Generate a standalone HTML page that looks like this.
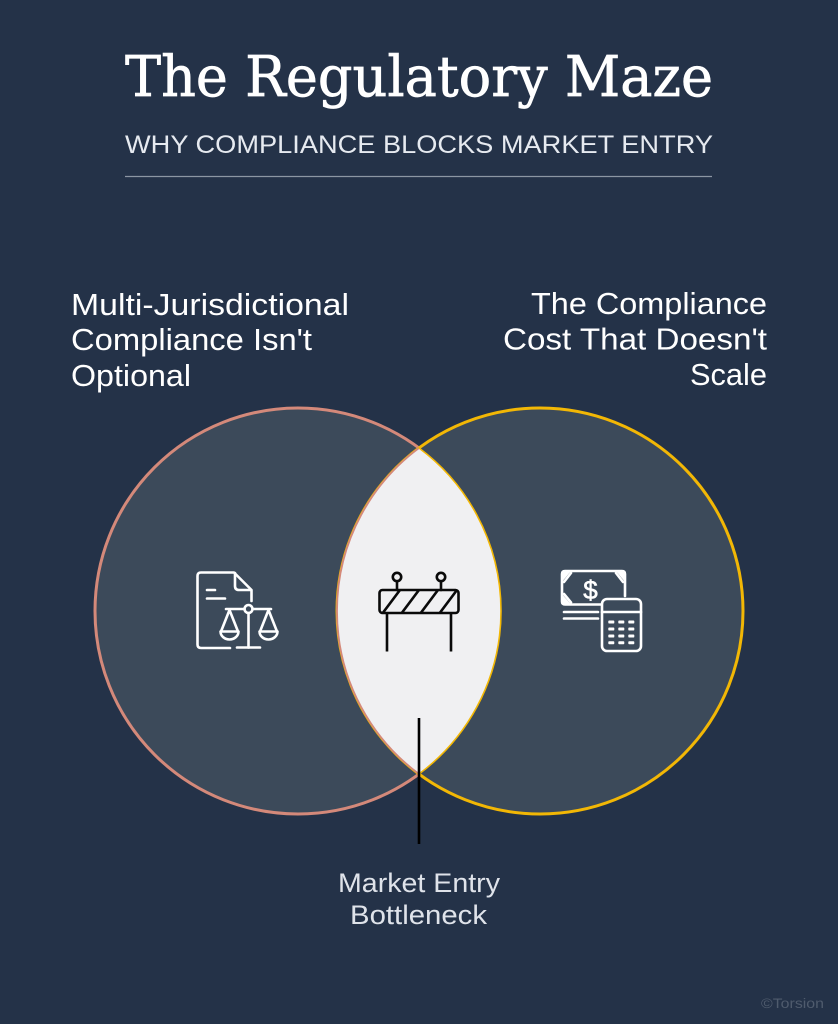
<!DOCTYPE html>
<html>
<head>
<meta charset="utf-8">
<style>
  html,body{margin:0;padding:0;background:#243248;}
  svg{display:block;}
</style>
</head>
<body>
<svg width="838" height="1024" viewBox="0 0 838 1024" xmlns="http://www.w3.org/2000/svg">
  <rect x="0" y="0" width="838" height="1024" fill="#243248"/>

  <!-- Title -->
  <text x="125" y="96" font-family="'DejaVu Serif','Liberation Serif',serif" font-size="56" fill="#ffffff" stroke="#ffffff" stroke-width="0.7" textLength="588" lengthAdjust="spacingAndGlyphs">The Regulatory Maze</text>
  <text x="125" y="153" font-family="'Liberation Sans',sans-serif" font-size="25" fill="#e6eaf0" textLength="588" lengthAdjust="spacingAndGlyphs">WHY COMPLIANCE BLOCKS MARKET ENTRY</text>
  <line x1="125" y1="176.5" x2="712" y2="176.5" stroke="#8c96a3" stroke-width="1.2"/>

  <!-- Left label -->
  <g font-family="'Liberation Sans',sans-serif" font-size="31" fill="#ffffff">
    <text x="71" y="315" textLength="278" lengthAdjust="spacingAndGlyphs">Multi-Jurisdictional</text>
    <text x="71" y="350" textLength="241" lengthAdjust="spacingAndGlyphs">Compliance Isn't</text>
    <text x="71" y="386" textLength="120" lengthAdjust="spacingAndGlyphs">Optional</text>
  </g>
  <!-- Right label -->
  <g font-family="'Liberation Sans',sans-serif" font-size="31" fill="#ffffff">
    <text x="531" y="314" textLength="236" lengthAdjust="spacingAndGlyphs">The Compliance</text>
    <text x="503" y="349.5" textLength="264" lengthAdjust="spacingAndGlyphs">Cost That Doesn't</text>
    <text x="690" y="385" textLength="77" lengthAdjust="spacingAndGlyphs">Scale</text>
  </g>

  <!-- Circles -->
  <circle cx="298" cy="611" r="203" fill="#3c4a5a" stroke="#d4897a" stroke-width="3"/>
  <circle cx="540" cy="611" r="203" fill="#3c4a5a" stroke="#f2b705" stroke-width="3"/>
  <!-- Lens -->
  <path d="M 419 448 A 203 203 0 0 0 419 774 A 203 203 0 0 0 419 448 Z" fill="#f0f0f2"/>
  <path d="M 419 448 A 203 203 0 0 0 419 774" fill="none" stroke="#d4897a" stroke-width="1.8"/>
  <path d="M 419 774 A 203 203 0 0 0 419 448" fill="none" stroke="#f2b705" stroke-width="1.6"/>

  <!-- Left icon: document + scales -->
  <g fill="none" stroke="#ffffff" stroke-width="2.6" stroke-linecap="round" stroke-linejoin="round">
    <path d="M 230 648 L 201 648 Q 197.5 648 197.5 644.5 L 197.5 576 Q 197.5 572.5 201 572.5 L 234 572.5 L 251.5 590 L 251.5 601"/>
    <path d="M 235 573 L 235 586 Q 235 590 239 590 L 251 590"/>
    <path d="M 207 590 L 215 590"/>
    <path d="M 207 598.5 L 225 598.5"/>
    <circle cx="248.5" cy="609" r="4"/>
    <path d="M 226 609 L 244.5 609 M 252.5 609 L 271 609"/>
    <path d="M 248.5 613 L 248.5 647.5"/>
    <path d="M 237 647.5 L 260 647.5"/>
    <path d="M 229.5 610 L 221 631.5 M 229.5 610 L 238 631.5"/>
    <path d="M 220.5 631.5 L 238.5 631.5 A 9 8 0 0 1 220.5 631.5 Z"/>
    <path d="M 268.5 610 L 260 631.5 M 268.5 610 L 277 631.5"/>
    <path d="M 259.5 631.5 L 277.5 631.5 A 9 8 0 0 1 259.5 631.5 Z"/>
  </g>

  <!-- Center icon: barrier -->
  <defs>
    <clipPath id="barclip"><rect x="379.5" y="590" width="79" height="23" rx="3"/></clipPath>
  </defs>
  <g fill="none" stroke="#0a0a0a" stroke-width="2.6" stroke-linecap="round" stroke-linejoin="round">
    <circle cx="397" cy="577" r="4.2"/>
    <circle cx="441" cy="577" r="4.2"/>
    <path d="M 397 581.5 L 397 590 M 441 581.5 L 441 590"/>
    <rect x="379.5" y="590" width="79" height="23" rx="3"/>
    <g clip-path="url(#barclip)">
      <path d="M 382 614 L 400 590 M 401 614 L 419 590 M 420 614 L 438 590 M 439 614 L 457 590"/>
    </g>
    <path d="M 387 613 L 387 651.5 M 451 613 L 451 651.5" stroke-linecap="butt"/>
  </g>

  <!-- Right icon: money + calculator -->
  <g fill="none" stroke="#ffffff" stroke-width="2.6" stroke-linecap="round" stroke-linejoin="round">
    <path d="M 601 604.5 L 565 604.5 Q 562 604.5 562 601.5 L 562 574 Q 562 571 565 571 L 622 571 Q 625 571 625 574 L 625 596"/>
    <path d="M 564 582 L 571 573" />
    <path d="M 616 573 L 623 582" />
    <path d="M 564 594 L 571 602.5" />
    <path d="M 564 612 L 598 612 M 564 618.5 L 598 618.5"/>
    <rect x="602" y="599" width="39" height="52" rx="5"/>
    <path d="M 602 612 L 641 612"/>
  </g>
  <g fill="#ffffff">
    <polygon points="562,571 571,571 562,582"/>
    <polygon points="625,571 616,571 625,582"/>
    <polygon points="562,604.5 571,604.5 562,594"/>
    <text x="590.5" y="599" font-family="'Liberation Sans',sans-serif" font-size="26" text-anchor="middle" stroke="#ffffff" stroke-width="0.6">$</text>
    <rect x="608.3" y="620.5" width="6" height="3" rx="0.8"/>
    <rect x="618.3" y="620.5" width="6" height="3" rx="0.8"/>
    <rect x="628.3" y="620.5" width="6" height="3" rx="0.8"/>
    <rect x="608.3" y="627.5" width="6" height="3" rx="0.8"/>
    <rect x="618.3" y="627.5" width="6" height="3" rx="0.8"/>
    <rect x="628.3" y="627.5" width="6" height="3" rx="0.8"/>
    <rect x="608.3" y="634.5" width="6" height="3" rx="0.8"/>
    <rect x="618.3" y="634.5" width="6" height="3" rx="0.8"/>
    <rect x="628.3" y="634.5" width="6" height="3" rx="0.8"/>
    <rect x="608.3" y="641.2" width="6" height="3" rx="0.8"/>
    <rect x="618.3" y="641.2" width="6" height="3" rx="0.8"/>
    <rect x="628.3" y="641.2" width="6" height="3" rx="0.8"/>
  </g>

  <!-- Pointer line -->
  <line x1="419" y1="718" x2="419" y2="844" stroke="#000000" stroke-width="2.6"/>

  <!-- Bottom label -->
  <g font-family="'Liberation Sans',sans-serif" font-size="27" fill="#dfe3ea">
    <text x="338" y="892" textLength="162" lengthAdjust="spacingAndGlyphs">Market Entry</text>
    <text x="350" y="924" textLength="137" lengthAdjust="spacingAndGlyphs">Bottleneck</text>
  </g>

  <!-- Copyright -->
  <text x="761" y="1008" font-family="'Liberation Sans',sans-serif" font-size="14" fill="#4f5b6d" textLength="63" lengthAdjust="spacingAndGlyphs">©Torsion</text>
</svg>
</body>
</html>
